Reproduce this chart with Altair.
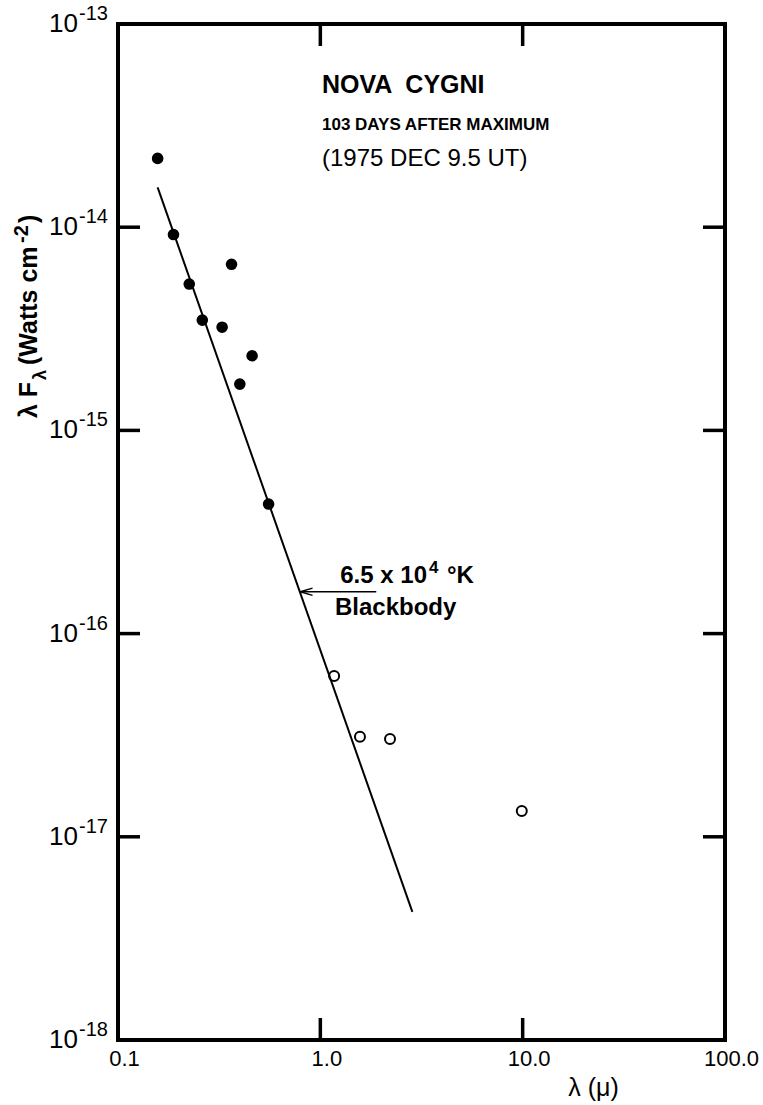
import altair as alt
import pandas as pd

# ---------------- data ----------------
# filled points: ultraviolet / optical photometry
uvopt_wavelength = [0.157, 0.188, 0.225, 0.261, 0.327, 0.364, 0.400, 0.460, 0.555]
uvopt_flux = [2.18e-14, 9.2e-15, 5.25e-15, 3.49e-15, 3.22e-15, 6.57e-15, 1.69e-15, 2.33e-15, 4.34e-16]
# open points: infrared photometry
ir_wavelength = [1.17, 1.57, 2.21, 9.9]
ir_flux = [6.18e-17, 3.11e-17, 3.03e-17, 1.34e-17]
# 6.5e4 K blackbody line (end points)
bb_wavelength = [0.157, 2.85]
bb_flux = [1.57e-14, 4.27e-18]
# arrow pointing at the blackbody line
arrow_wavelength = [0.796, 1.89]
arrow_flux = [1.607e-16]

x_tick_values = [0.1, 1.0, 10.0, 100.0]
x_tick_labels = ["0.1", "1.0", "10.0", "100.0"]
x_inner_ticks = [1.0, 10.0]
y_tick_values = [1e-13, 1e-14, 1e-15, 1e-16, 1e-17, 1e-18]
y_tick_exponents = ["-13", "-14", "-15", "-16", "-17", "-18"]
y_inner_ticks = [1e-14, 1e-15, 1e-16, 1e-17]

title_lines = ["NOVA \u00a0CYGNI", "103 DAYS AFTER MAXIMUM", "(1975 DEC 9.5 UT)"]
x_title = "λ (μ)"

# ---------------- layout ----------------
W, H = 607, 1016
LEFT, TOP = 118, 24
REG = "Liberation Sans, sans-serif"

XS = alt.Scale(type="log", domain=[0.1, 100], nice=False)
YS = alt.Scale(type="log", domain=[1e-18, 1e-13], nice=False)

x_label_expr = " : ".join(
    f"datum.value == {v} ? '{l}'" for v, l in zip(x_tick_values, x_tick_labels)
) + " : ''"

x_axis = alt.Axis(
    values=x_tick_values, labelExpr=x_label_expr, ticks=False, domain=False, grid=False,
    labelFont=REG, labelFontSize=22, labelColor="black", labelPadding=8, labelOffset=6,
    labelFlush=False,
    title=x_title, titleFont=REG, titleFontSize=25, titleFontWeight="normal",
    titleColor="black", titleX=475, titleY=55, titleAlign="center", titleBaseline="alphabetic",
)


def X(field):
    return alt.X(f"{field}:Q", scale=XS, axis=x_axis)


def Y(field):
    return alt.Y(f"{field}:Q", scale=YS, axis=None)


def ax(v):
    return v - LEFT


def ay(v):
    return v - TOP


uv_df = pd.DataFrame({"wl": uvopt_wavelength, "flux": uvopt_flux})
ir_df = pd.DataFrame({"wl": ir_wavelength, "flux": ir_flux})
bb_df = pd.DataFrame({"wl": bb_wavelength, "flux": bb_flux})
arrow_df = pd.DataFrame({"x1": [arrow_wavelength[0]], "x2": [arrow_wavelength[1]], "y": arrow_flux})
head_df = pd.DataFrame({"x": [arrow_wavelength[0]], "y": arrow_flux})
yt_df = pd.DataFrame({"v": y_tick_values, "exp": y_tick_exponents})
yi_df = pd.DataFrame({"v": y_inner_ticks})
xi_df = pd.DataFrame({"v": x_inner_ticks})
one = pd.DataFrame({"a": [0]})

TICK = dict(color="black", strokeWidth=3.5)
layers = []

# frame ticks (inward)
layers.append(alt.Chart(yi_df).mark_rule(**TICK).encode(y=Y("v"), x=alt.value(0), x2=alt.value(22)))
layers.append(alt.Chart(yi_df).mark_rule(**TICK).encode(y=Y("v"), x=alt.value(W - 22), x2=alt.value(W)))
layers.append(alt.Chart(xi_df).mark_rule(**TICK).encode(x=X("v"), y=alt.value(H - 22), y2=alt.value(H)))
layers.append(alt.Chart(xi_df).mark_rule(**TICK).encode(x=X("v"), y=alt.value(0), y2=alt.value(22)))

# y tick labels 10^-n
layers.append(
    alt.Chart(yt_df).mark_text(align="right", baseline="alphabetic", font=REG, fontSize=26,
                               color="black", dy=8)
    .encode(y=Y("v"), x=alt.value(-40), text=alt.value("10"))
)
layers.append(
    alt.Chart(yt_df).mark_text(align="left", baseline="alphabetic", font=REG, fontSize=20,
                               color="black", dy=-4)
    .encode(y=Y("v"), x=alt.value(-39), text="exp:N")
)

# blackbody line
layers.append(alt.Chart(bb_df).mark_line(color="black", strokeWidth=2).encode(x=X("wl"), y=Y("flux")))

# data points
layers.append(
    alt.Chart(uv_df).mark_point(shape="circle", filled=True, size=135, color="black", opacity=1)
    .encode(x=X("wl"), y=Y("flux"))
)
layers.append(
    alt.Chart(ir_df).mark_point(shape="circle", filled=False, size=100, strokeWidth=2,
                                color="black", opacity=1)
    .encode(x=X("wl"), y=Y("flux"))
)

# arrow
layers.append(
    alt.Chart(arrow_df).mark_rule(color="black", strokeWidth=1.3)
    .encode(x=X("x1"), x2="x2", y=Y("y"))
)
layers.append(
    alt.Chart(head_df).mark_point(shape="M0,0L2,-0.6M0,0L2,0.6", size=150, filled=False,
                                  strokeWidth=1.4, color="black", opacity=1)
    .encode(x=X("x"), y=Y("y"))
)


def txt(s, x, y, size, font=REG, weight="normal", align="left", angle=0):
    kw = dict(align=align, baseline="alphabetic", font=font, fontSize=size, fontWeight=weight,
              color="black")
    if angle:
        kw["angle"] = angle
    return alt.Chart(one).mark_text(**kw).encode(
        x=alt.value(ax(x)), y=alt.value(ay(y)), text=alt.value(s)
    )


# title block
layers.append(txt(title_lines[0], 322, 93, 25, REG, "bold"))
layers.append(txt(title_lines[1], 322, 130, 17, REG, "bold"))
layers.append(txt(title_lines[2], 322, 166, 24, REG, "normal"))

# blackbody annotation
layers.append(txt("6.5 x 10", 427, 583, 24, REG, "bold", align="right"))
layers.append(txt("4", 429, 573, 17, REG, "bold"))
layers.append(txt("°K", 447, 583, 24, REG, "bold"))
layers.append(txt("Blackbody", 335, 615, 24, REG, "bold"))

# y-axis title (rotated pieces: λ F_λ (Watts cm^-2))
layers.append(txt("λ F", 37, 418, 25, REG, "bold", angle=270))
layers.append(txt("λ", 46, 380, 18, REG, "bold", angle=270))
layers.append(txt("(Watts cm", 37, 365, 25, REG, "bold", angle=270))
layers.append(txt("-2", 28, 243, 20, REG, "bold", angle=270))
layers.append(txt(")", 37, 223, 25, REG, "bold", angle=270))

chart = (
    alt.layer(*layers)
    .properties(width=W, height=H,
                autosize=alt.AutoSizeParams(type="none"),
                padding={"left": LEFT, "top": TOP, "right": 763 - LEFT - W, "bottom": 1105 - TOP - H},
                background="white")
    .configure_view(stroke="black", strokeWidth=4)
)

chart.save("out.html", embed_options={"renderer": "svg", "actions": False})
